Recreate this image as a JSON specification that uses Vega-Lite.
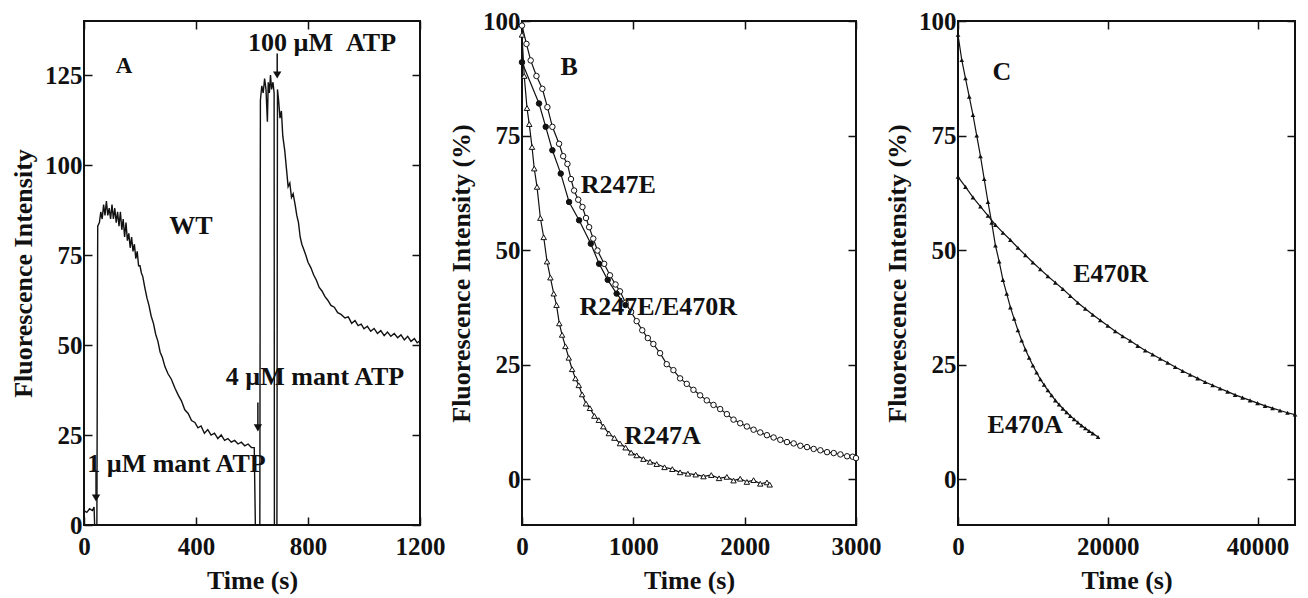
{
  "$schema": "https://vega.github.io/schema/vega-lite/v6.json",
  "background": "white",
  "padding": {"left": 9, "top": 8, "right": 5, "bottom": 5},
  "bounds": "flush",
  "spacing": 102,
  "config": {
    "font": "Liberation Serif",
    "view": {"stroke": "#111", "strokeWidth": 2},
    "axis": {
      "labelFont": "Liberation Serif", "labelFontSize": 25, "labelFontWeight": "bold", "labelColor": "#111",
      "titleFont": "Liberation Serif", "titleFontSize": 26, "titleFontWeight": "bold", "titleColor": "#111",
      "grid": false, "domain": false, "ticks": true, "tickColor": "#111", "tickOpacity": 1, "tickWidth": 1.5, "tickSize": 8, "offset": -8,
      "labelFlush": false, "labelOverlap": false, "zindex": 1
    },
    "text": {"font": "Liberation Serif", "fontWeight": "bold", "fontSize": 26, "color": "#111"}
  },
  "datasets": {
    "wt": [
      {"t":0,"v":4},{"t":10,"v":3.5},{"t":20,"v":4.5},{"t":30,"v":4},{"t":36,"v":5},{"t":38,"v":0},{"t":46,"v":0},{"t":49,"v":83},
      {"t":55,"v":84},{"t":60,"v":87},{"t":65,"v":85},{"t":70,"v":89},{"t":75,"v":86},{"t":80,"v":90},{"t":85,"v":86},{"t":90,"v":88},
      {"t":95,"v":85},{"t":100,"v":89},{"t":105,"v":85},{"t":110,"v":88},{"t":115,"v":84},{"t":120,"v":87},{"t":125,"v":83},{"t":130,"v":87},
      {"t":135,"v":82},{"t":140,"v":85},{"t":145,"v":80},{"t":150,"v":84},{"t":155,"v":79},{"t":160,"v":81},{"t":165,"v":77},{"t":170,"v":80},
      {"t":175,"v":76},{"t":180,"v":78},{"t":185,"v":74},{"t":190,"v":76},{"t":195,"v":72},{"t":200,"v":72},{"t":205,"v":70},{"t":210,"v":69},
      {"t":217,"v":66},{"t":225,"v":63},{"t":232,"v":61},{"t":240,"v":58},{"t":248,"v":56},{"t":256,"v":53},{"t":264,"v":51},{"t":272,"v":48},
      {"t":280,"v":46.5},{"t":289,"v":44},{"t":300,"v":42},{"t":312,"v":40.5},{"t":325,"v":38},{"t":337,"v":36},{"t":348,"v":34.5},{"t":360,"v":32},
      {"t":372,"v":31},{"t":384,"v":29},{"t":396,"v":28.5},{"t":407,"v":27},{"t":418,"v":27.5},{"t":430,"v":25.5},{"t":442,"v":26.5},{"t":454,"v":25},
      {"t":466,"v":25.5},{"t":478,"v":24},{"t":490,"v":25},{"t":502,"v":23.5},{"t":514,"v":24},{"t":526,"v":23},{"t":538,"v":23.5},{"t":550,"v":22.5},
      {"t":562,"v":23},{"t":574,"v":22},{"t":586,"v":22.5},{"t":598,"v":21.5},{"t":608,"v":21.5},{"t":612,"v":0},{"t":628,"v":0},{"t":630,"v":118},
      {"t":635,"v":122},{"t":640,"v":120},{"t":645,"v":124},{"t":650,"v":121},{"t":655,"v":112},{"t":658,"v":123},{"t":662,"v":120},{"t":666,"v":125},
      {"t":670,"v":121},{"t":675,"v":123},{"t":679,"v":120},{"t":680,"v":0},{"t":689,"v":0},{"t":691,"v":121},{"t":695,"v":118},{"t":700,"v":113},
      {"t":705,"v":115},{"t":710,"v":108},{"t":717,"v":104},{"t":723,"v":99},{"t":729,"v":94},{"t":735,"v":95},{"t":741,"v":91},{"t":747,"v":92},
      {"t":754,"v":89},{"t":760,"v":86},{"t":766,"v":84},{"t":772,"v":80},{"t":778,"v":78},{"t":785,"v":76.5},{"t":792,"v":75},{"t":800,"v":73},
      {"t":810,"v":71.5},{"t":820,"v":69.5},{"t":830,"v":68},{"t":840,"v":66},{"t":850,"v":65},{"t":860,"v":63.5},{"t":870,"v":62.5},{"t":882,"v":61},
      {"t":894,"v":60.5},{"t":906,"v":59},{"t":918,"v":58.5},{"t":932,"v":57.5},{"t":944,"v":57.8},{"t":956,"v":56},{"t":968,"v":56.8},{"t":979,"v":55.4},
      {"t":990,"v":55.8},{"t":1000,"v":54.5},{"t":1012,"v":55.2},{"t":1024,"v":53.8},{"t":1036,"v":54.6},{"t":1048,"v":53.2},{"t":1060,"v":54},
      {"t":1072,"v":52.6},{"t":1084,"v":53.6},{"t":1096,"v":52.4},{"t":1108,"v":53.2},{"t":1120,"v":52},{"t":1132,"v":52.8},{"t":1144,"v":51.4},
      {"t":1156,"v":52.4},{"t":1168,"v":51},{"t":1180,"v":51.8},{"t":1190,"v":50.6},{"t":1200,"v":51.2}
    ],
    "arrowsA": [
      {"t":43,"v":15,"v2":7.5},
      {"t":621,"v":34,"v2":27},
      {"t":690,"v":131,"v2":125}
    ],
    "labelsA": [
      {"t":143,"v":127.5,"label":"A","size":23},
      {"t":382,"v":83,"label":"WT","size":26},
      {"t":850,"v":134,"label":"100 µM\u00a0\u00a0ATP","size":26},
      {"t":825,"v":41,"label":"4 µM mant ATP","size":26},
      {"t":330,"v":17,"label":"1 µM mant ATP","size":26}
    ],
    "b": [
      {"s":"A","t":0,"v":97},{"s":"A","t":20,"v":88},{"s":"A","t":45,"v":81},{"s":"A","t":65,"v":77.5},{"s":"A","t":90,"v":72.5},{"s":"A","t":110,"v":67.8},
      {"s":"A","t":135,"v":63.8},{"s":"A","t":165,"v":57},{"s":"A","t":195,"v":52.8},{"s":"A","t":225,"v":47.5},{"s":"A","t":255,"v":44},{"s":"A","t":285,"v":40.5},
      {"s":"A","t":310,"v":38},{"s":"A","t":335,"v":34},{"s":"A","t":360,"v":31.5},{"s":"A","t":390,"v":29},{"s":"A","t":420,"v":26.5},{"s":"A","t":450,"v":24},
      {"s":"A","t":480,"v":22},{"s":"A","t":510,"v":20.5},{"s":"A","t":540,"v":18.5},{"s":"A","t":575,"v":16.5},{"s":"A","t":610,"v":15.5},{"s":"A","t":650,"v":13.8},
      {"s":"A","t":690,"v":12.9},{"s":"A","t":730,"v":11.5},{"s":"A","t":780,"v":10},{"s":"A","t":830,"v":9},{"s":"A","t":880,"v":7.8},{"s":"A","t":930,"v":6.9},
      {"s":"A","t":980,"v":5.8},{"s":"A","t":1030,"v":5.2},{"s":"A","t":1090,"v":4.4},{"s":"A","t":1150,"v":3.8},{"s":"A","t":1210,"v":3.3},{"s":"A","t":1280,"v":2.6},
      {"s":"A","t":1350,"v":2.2},{"s":"A","t":1420,"v":1.5},{"s":"A","t":1490,"v":1.2},{"s":"A","t":1560,"v":1.0},{"s":"A","t":1630,"v":0.6},{"s":"A","t":1700,"v":0.9},
      {"s":"A","t":1770,"v":0.2},{"s":"A","t":1840,"v":0.5},{"s":"A","t":1900,"v":-0.3},{"s":"A","t":1960,"v":0.1},{"s":"A","t":2020,"v":-0.6},{"s":"A","t":2080,"v":-0.2},
      {"s":"A","t":2140,"v":-1.0},{"s":"A","t":2200,"v":-0.7},{"s":"A","t":2225,"v":-1.2},
      {"s":"O","t":0,"v":99},{"s":"O","t":40,"v":95},{"s":"O","t":78,"v":91.4},{"s":"O","t":130,"v":88},{"s":"O","t":183,"v":85.2},{"s":"O","t":228,"v":81.2},
      {"s":"O","t":273,"v":76.9},{"s":"O","t":333,"v":73.2},{"s":"O","t":370,"v":70.5},{"s":"O","t":408,"v":68.8},{"s":"O","t":440,"v":65.5},{"s":"O","t":468,"v":63},
      {"s":"O","t":505,"v":61},{"s":"O","t":543,"v":59.4},{"s":"O","t":575,"v":57},{"s":"O","t":603,"v":55},{"s":"O","t":640,"v":52.5},{"s":"O","t":678,"v":49.9},
      {"s":"O","t":738,"v":47},{"s":"O","t":790,"v":44.5},{"s":"O","t":840,"v":42.5},{"s":"O","t":880,"v":41},{"s":"O","t":930,"v":38.5},{"s":"O","t":980,"v":36.5},
      {"s":"O","t":1030,"v":34.5},{"s":"O","t":1080,"v":32.5},{"s":"O","t":1130,"v":30.8},{"s":"O","t":1180,"v":29.5},{"s":"O","t":1240,"v":27.5},{"s":"O","t":1300,"v":25.1},
      {"s":"O","t":1360,"v":23.8},{"s":"O","t":1420,"v":22},{"s":"O","t":1480,"v":20.8},{"s":"O","t":1540,"v":19.5},{"s":"O","t":1600,"v":18.3},{"s":"O","t":1660,"v":17.2},
      {"s":"O","t":1720,"v":16.2},{"s":"O","t":1780,"v":15.3},{"s":"O","t":1840,"v":14.2},{"s":"O","t":1900,"v":13},{"s":"O","t":1960,"v":12.2},{"s":"O","t":2020,"v":11.5},
      {"s":"O","t":2080,"v":10.8},{"s":"O","t":2140,"v":10.2},{"s":"O","t":2200,"v":9.6},{"s":"O","t":2260,"v":9.1},{"s":"O","t":2320,"v":8.6},{"s":"O","t":2380,"v":8.1},
      {"s":"O","t":2440,"v":7.8},{"s":"O","t":2500,"v":7.3},{"s":"O","t":2560,"v":7.0},{"s":"O","t":2620,"v":6.6},{"s":"O","t":2680,"v":6.3},{"s":"O","t":2740,"v":5.9},
      {"s":"O","t":2800,"v":5.7},{"s":"O","t":2860,"v":5.4},{"s":"O","t":2920,"v":5.0},{"s":"O","t":2970,"v":4.9},{"s":"O","t":3000,"v":4.6},
      {"s":"F","t":0,"v":91},{"s":"F","t":153,"v":82},{"s":"F","t":213,"v":76.9},{"s":"F","t":273,"v":71.8},{"s":"F","t":348,"v":66.7},{"s":"F","t":423,"v":60.5},
      {"s":"F","t":513,"v":56.5},{"s":"F","t":618,"v":51.4},{"s":"F","t":693,"v":47},{"s":"F","t":770,"v":43.5},{"s":"F","t":850,"v":40.5},{"s":"F","t":930,"v":38}
    ],
    "labelsB": [
      {"t":423,"v":90,"label":"B"},
      {"t":864,"v":64.2,"label":"R247E"},
      {"t":1224,"v":37.5,"label":"R247E/E470R"},
      {"t":1263,"v":9.4,"label":"R247A"}
    ],
    "c": [
      {"s":"A","t":0,"v":97},{"s":"A","t":500,"v":91.5},{"s":"A","t":1000,"v":87.5},{"s":"A","t":1500,"v":83.5},{"s":"A","t":2000,"v":79.5},{"s":"A","t":2500,"v":75},
      {"s":"A","t":3000,"v":70.5},{"s":"A","t":3500,"v":65.5},{"s":"A","t":4000,"v":60.5},{"s":"A","t":4500,"v":56},{"s":"A","t":5000,"v":51},{"s":"A","t":5500,"v":47.5},
      {"s":"A","t":6000,"v":43.5},{"s":"A","t":6500,"v":40.5},{"s":"A","t":7000,"v":37.5},{"s":"A","t":7500,"v":35},{"s":"A","t":8000,"v":32.5},{"s":"A","t":8500,"v":30.3},
      {"s":"A","t":9000,"v":28.3},{"s":"A","t":9500,"v":26.5},{"s":"A","t":10000,"v":24.8},{"s":"A","t":10500,"v":23.3},{"s":"A","t":11000,"v":21.8},{"s":"A","t":11500,"v":20.6},
      {"s":"A","t":12000,"v":19.4},{"s":"A","t":12500,"v":18.3},{"s":"A","t":13000,"v":17.2},{"s":"A","t":13500,"v":16.3},{"s":"A","t":14000,"v":15.4},{"s":"A","t":14500,"v":14.6},
      {"s":"A","t":15000,"v":13.8},{"s":"A","t":15500,"v":13.1},{"s":"A","t":16000,"v":12.4},{"s":"A","t":16500,"v":11.7},{"s":"A","t":17000,"v":11.1},{"s":"A","t":17500,"v":10.5},
      {"s":"A","t":18000,"v":10},{"s":"A","t":18700,"v":9.2},
      {"s":"R","t":0,"v":66},{"s":"R","t":1000,"v":63.8},{"s":"R","t":2000,"v":61.5},{"s":"R","t":3000,"v":59.5},{"s":"R","t":4000,"v":57.5},{"s":"R","t":5000,"v":55.5},
      {"s":"R","t":6000,"v":53.8},{"s":"R","t":7000,"v":52.2},{"s":"R","t":8000,"v":50.5},{"s":"R","t":9000,"v":48.9},{"s":"R","t":10000,"v":47.3},{"s":"R","t":11000,"v":45.8},
      {"s":"R","t":12000,"v":44.3},{"s":"R","t":13000,"v":42.9},{"s":"R","t":14000,"v":41.5},{"s":"R","t":15000,"v":40},{"s":"R","t":16000,"v":38.5},{"s":"R","t":17000,"v":37.2},
      {"s":"R","t":18000,"v":35.9},{"s":"R","t":19000,"v":34.7},{"s":"R","t":20000,"v":33.5},{"s":"R","t":21000,"v":32.3},{"s":"R","t":22000,"v":31.2},{"s":"R","t":23000,"v":30.2},
      {"s":"R","t":24000,"v":29.1},{"s":"R","t":25000,"v":28.1},{"s":"R","t":26000,"v":27.2},{"s":"R","t":27000,"v":26.3},{"s":"R","t":28000,"v":25.4},{"s":"R","t":29000,"v":24.5},
      {"s":"R","t":30000,"v":23.6},{"s":"R","t":31000,"v":22.8},{"s":"R","t":32000,"v":22},{"s":"R","t":33000,"v":21.2},{"s":"R","t":34000,"v":20.5},{"s":"R","t":35000,"v":19.8},
      {"s":"R","t":36000,"v":19.1},{"s":"R","t":37000,"v":18.4},{"s":"R","t":38000,"v":17.8},{"s":"R","t":39000,"v":17.2},{"s":"R","t":40000,"v":16.6},{"s":"R","t":41000,"v":16},
      {"s":"R","t":42000,"v":15.5},{"s":"R","t":43000,"v":15},{"s":"R","t":44000,"v":14.5},{"s":"R","t":45000,"v":14.1}
    ],
    "labelsC": [
      {"t":5870,"v":88.9,"label":"C"},
      {"t":20400,"v":44.7,"label":"E470R"},
      {"t":8970,"v":11.8,"label":"E470A"}
    ]
  },
  "hconcat": [
    {
      "width": 336, "height": 504,
      "resolve": {"axis": {"x": "independent", "y": "independent"}},
      "layer": [
        {
          "data": {"name": "wt"},
          "mark": {"type": "line", "color": "#111", "strokeWidth": 1.4},
          "encoding": {
            "x": {"field": "t", "type": "quantitative", "scale": {"domain": [0, 1200], "nice": false},
                  "axis": {"orient": "bottom", "values": [0, 400, 800, 1200], "format": "d", "title": "Time (s)", "labelPadding": 9, "titlePadding": 8}},
            "y": {"field": "v", "type": "quantitative", "scale": {"domain": [0, 140], "nice": false},
                  "axis": {"orient": "left", "values": [0, 25, 50, 75, 100, 125], "title": "Fluorescence Intensity", "labelPadding": 2, "titlePadding": 8}}
          }
        },
        {
          "data": {"name": "wt"},
          "mark": {"type": "line", "opacity": 0},
          "encoding": {
            "x": {"field": "t", "type": "quantitative", "scale": {"domain": [0, 1200], "nice": false},
                  "axis": {"orient": "top", "values": [0, 400, 800, 1200], "labels": false, "title": null}},
            "y": {"field": "v", "type": "quantitative", "scale": {"domain": [0, 140], "nice": false},
                  "axis": {"orient": "right", "values": [0, 25, 50, 75, 100, 125], "labels": false, "title": null}}
          }
        },
        {
          "data": {"name": "arrowsA"},
          "mark": {"type": "rule", "color": "#111", "strokeWidth": 1.5},
          "encoding": {
            "x": {"field": "t", "type": "quantitative", "scale": {"domain": [0, 1200], "nice": false}, "axis": null},
            "y": {"field": "v", "type": "quantitative", "scale": {"domain": [0, 140], "nice": false}, "axis": null},
            "y2": {"field": "v2"}
          }
        },
        {
          "data": {"name": "arrowsA"},
          "mark": {"type": "point", "shape": "triangle-down", "filled": true, "color": "#111", "size": 70, "opacity": 1},
          "encoding": {
            "x": {"field": "t", "type": "quantitative", "scale": {"domain": [0, 1200], "nice": false}, "axis": null},
            "y": {"field": "v2", "type": "quantitative", "scale": {"domain": [0, 140], "nice": false}, "axis": null}
          }
        },
        {
          "data": {"name": "labelsA"},
          "mark": {"type": "text", "align": "center", "baseline": "middle"},
          "encoding": {
            "x": {"field": "t", "type": "quantitative", "scale": {"domain": [0, 1200], "nice": false}, "axis": null},
            "y": {"field": "v", "type": "quantitative", "scale": {"domain": [0, 140], "nice": false}, "axis": null},
            "text": {"field": "label"},
            "size": {"field": "size", "type": "quantitative", "scale": null}
          }
        }
      ]
    },
    {
      "width": 334, "height": 504,
      "resolve": {"axis": {"x": "independent", "y": "independent"}},
      "layer": [
        {
          "data": {"name": "b"},
          "mark": {"type": "line", "color": "#111", "strokeWidth": 1.2},
          "encoding": {
            "x": {"field": "t", "type": "quantitative", "scale": {"domain": [0, 3000], "nice": false},
                  "axis": {"orient": "bottom", "values": [0, 1000, 2000, 3000], "format": "d", "title": "Time (s)", "labelPadding": 9, "titlePadding": 8}},
            "y": {"field": "v", "type": "quantitative", "scale": {"domain": [-10, 100], "nice": false},
                  "axis": {"orient": "left", "values": [0, 25, 50, 75, 100], "title": "Fluorescence Intensity (%)", "labelPadding": 2, "titlePadding": 8}},
            "detail": {"field": "s"}
          }
        },
        {
          "data": {"name": "b"},
          "mark": {"type": "line", "opacity": 0},
          "encoding": {
            "x": {"field": "t", "type": "quantitative", "scale": {"domain": [0, 3000], "nice": false},
                  "axis": {"orient": "top", "values": [0, 1000, 2000, 3000], "labels": false, "title": null}},
            "y": {"field": "v", "type": "quantitative", "scale": {"domain": [-10, 100], "nice": false},
                  "axis": {"orient": "right", "values": [0, 25, 50, 75, 100], "labels": false, "title": null}},
            "detail": {"field": "s"}
          }
        },
        {
          "data": {"name": "b"},
          "mark": {"type": "point", "strokeWidth": 1, "opacity": 1},
          "encoding": {
            "x": {"field": "t", "type": "quantitative", "scale": {"domain": [0, 3000], "nice": false}, "axis": null},
            "y": {"field": "v", "type": "quantitative", "scale": {"domain": [-10, 100], "nice": false}, "axis": null},
            "shape": {"field": "s", "type": "nominal", "scale": {"domain": ["A", "O", "F"], "range": ["triangle-up", "circle", "circle"]}, "legend": null},
            "fill": {"field": "s", "type": "nominal", "scale": {"domain": ["A", "O", "F"], "range": ["white", "white", "#111"]}, "legend": null},
            "stroke": {"value": "#111"},
            "size": {"value": 30}
          }
        },
        {
          "data": {"name": "labelsB"},
          "mark": {"type": "text", "align": "center", "baseline": "middle"},
          "encoding": {
            "x": {"field": "t", "type": "quantitative", "scale": {"domain": [0, 3000], "nice": false}, "axis": null},
            "y": {"field": "v", "type": "quantitative", "scale": {"domain": [-10, 100], "nice": false}, "axis": null},
            "text": {"field": "label"}
          }
        }
      ]
    },
    {
      "width": 337, "height": 504,
      "resolve": {"axis": {"x": "independent", "y": "independent"}},
      "layer": [
        {
          "data": {"name": "c"},
          "mark": {"type": "line", "color": "#111", "strokeWidth": 1.2},
          "encoding": {
            "x": {"field": "t", "type": "quantitative", "scale": {"domain": [0, 45000], "nice": false},
                  "axis": {"orient": "bottom", "values": [0, 20000, 40000], "format": "d", "title": "Time (s)", "labelPadding": 9, "titlePadding": 8}},
            "y": {"field": "v", "type": "quantitative", "scale": {"domain": [-10, 100], "nice": false},
                  "axis": {"orient": "left", "values": [0, 25, 50, 75, 100], "title": "Fluorescence Intensity (%)", "labelPadding": 2, "titlePadding": 8}},
            "detail": {"field": "s"}
          }
        },
        {
          "data": {"name": "c"},
          "mark": {"type": "line", "opacity": 0},
          "encoding": {
            "x": {"field": "t", "type": "quantitative", "scale": {"domain": [0, 45000], "nice": false},
                  "axis": {"orient": "top", "values": [0, 20000, 40000], "labels": false, "title": null}},
            "y": {"field": "v", "type": "quantitative", "scale": {"domain": [-10, 100], "nice": false},
                  "axis": {"orient": "right", "values": [0, 25, 50, 75, 100], "labels": false, "title": null}},
            "detail": {"field": "s"}
          }
        },
        {
          "data": {"name": "c"},
          "mark": {"type": "point", "shape": "triangle-up", "filled": true, "color": "#111", "size": 22, "opacity": 1},
          "encoding": {
            "x": {"field": "t", "type": "quantitative", "scale": {"domain": [0, 45000], "nice": false}, "axis": null},
            "y": {"field": "v", "type": "quantitative", "scale": {"domain": [-10, 100], "nice": false}, "axis": null}
          }
        },
        {
          "data": {"name": "labelsC"},
          "mark": {"type": "text", "align": "center", "baseline": "middle"},
          "encoding": {
            "x": {"field": "t", "type": "quantitative", "scale": {"domain": [0, 45000], "nice": false}, "axis": null},
            "y": {"field": "v", "type": "quantitative", "scale": {"domain": [-10, 100], "nice": false}, "axis": null},
            "text": {"field": "label"}
          }
        }
      ]
    }
  ]
}
